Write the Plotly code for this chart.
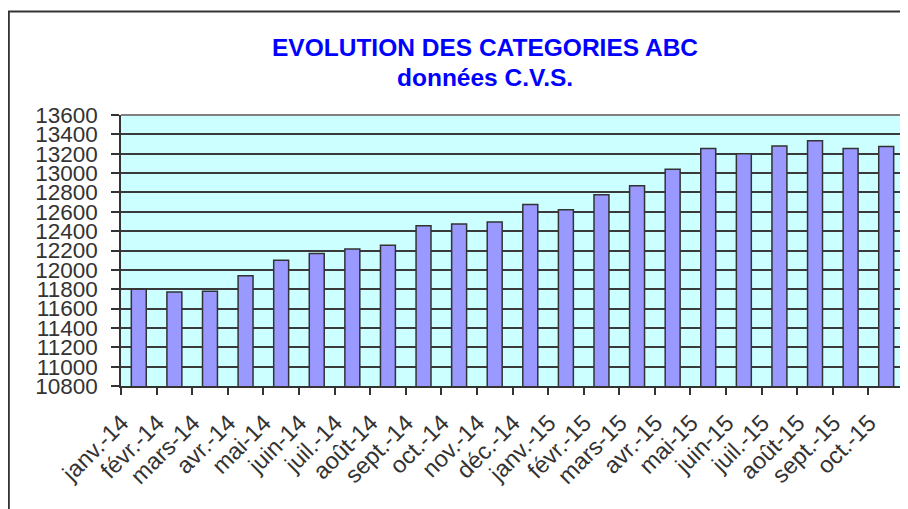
import plotly.graph_objects as go

categories = ["janv.-14", "févr.-14", "mars-14", "avr.-14", "mai-14", "juin-14",
              "juil.-14", "août-14", "sept.-14", "oct.-14", "nov.-14", "déc.-14",
              "janv.-15", "févr.-15", "mars-15", "avr.-15", "mai-15", "juin-15",
              "juil.-15", "août-15", "sept.-15", "oct.-15"]
values = [11800, 11770, 11780, 11940, 12100, 12170,
          12215, 12255, 12455, 12475, 12495, 12675,
          12620, 12775, 12870, 13040, 13255, 13200,
          13280, 13335, 13255, 13275]
title_line1 = "EVOLUTION DES CATEGORIES ABC"
title_line2 = "données C.V.S."

# the page body adds an 8px margin, so the figure is drawn 8px right/down
OFF = 8
W, H = 908 - OFF, 509 - OFF
L, R, T, B = 121 - OFF, 4, 115 - OFF, 509 - 386
pw, ph = W - L - R, H - T - B

def px_x(x):
    return (x - OFF - L) / pw

def px_y(y):
    return 1 + (T - (y - OFF)) / ph

font_family = "Liberation Sans, Arial, sans-serif"

fig = go.Figure()
fig.add_trace(go.Bar(
    x=categories, y=values,
    marker=dict(color="#9999FF", line=dict(color="#333333", width=1.5)),
))

fig.update_layout(
    width=W, height=H,
    margin=dict(l=L, r=R, t=T, b=B, autoexpand=False),
    paper_bgcolor="white",
    plot_bgcolor="#CCFFFF",
    bargap=0.58,
    showlegend=False,
    font=dict(family=font_family, color="#333333", size=22),
    xaxis=dict(
        type="category",
        tickangle=-45,
        ticks="outside", tickson="boundaries", ticklen=7, tickwidth=1.5, tickcolor="#333333",
        showline=True, linecolor="#333333", linewidth=1.5,
        showgrid=False,
        tickfont=dict(size=23.5, color="#333333"),
        ticklabelstandoff=12,
        ticklabelshift=-17,
        fixedrange=True,
    ),
    yaxis=dict(
        range=[10800, 13600], dtick=200, tick0=10800,
        tickformat="d",
        ticks="outside", ticklen=8, tickwidth=1.5, tickcolor="#333333",
        showline=True, linecolor="#333333", linewidth=1.5,
        showgrid=True, gridcolor="#3a3a3a", gridwidth=1.5,
        tickfont=dict(size=22.5, color="#333333"),
        ticklabelstandoff=9,
        zeroline=False,
    ),
    shapes=[
        # outer chart frame
        dict(type="rect", xref="paper", yref="paper",
             x0=px_x(8.8), x1=px_x(1100), y0=px_y(700), y1=px_y(11.5),
             line=dict(color="#333333", width=2), fillcolor="rgba(0,0,0,0)", layer="above"),
        # plot area border top/right
        dict(type="line", xref="paper", yref="paper", x0=0, x1=1, y0=1, y1=1,
             line=dict(color="#808080", width=2)),
        dict(type="line", xref="paper", yref="paper", x0=1, x1=1, y0=0, y1=1,
             line=dict(color="#808080", width=2)),
    ],
    annotations=[
        dict(text="<b>%s</b>" % title_line1, xref="paper", yref="paper",
             x=px_x(485), y=px_y(47), xanchor="center", yanchor="middle",
             showarrow=False, font=dict(size=24.5, color="#0000FF", family=font_family)),
        dict(text="<b>%s</b>" % title_line2, xref="paper", yref="paper",
             x=px_x(485), y=px_y(77), xanchor="center", yanchor="middle",
             showarrow=False, font=dict(size=24.5, color="#0000FF", family=font_family)),
    ],
)

fig.write_html("out.html")
